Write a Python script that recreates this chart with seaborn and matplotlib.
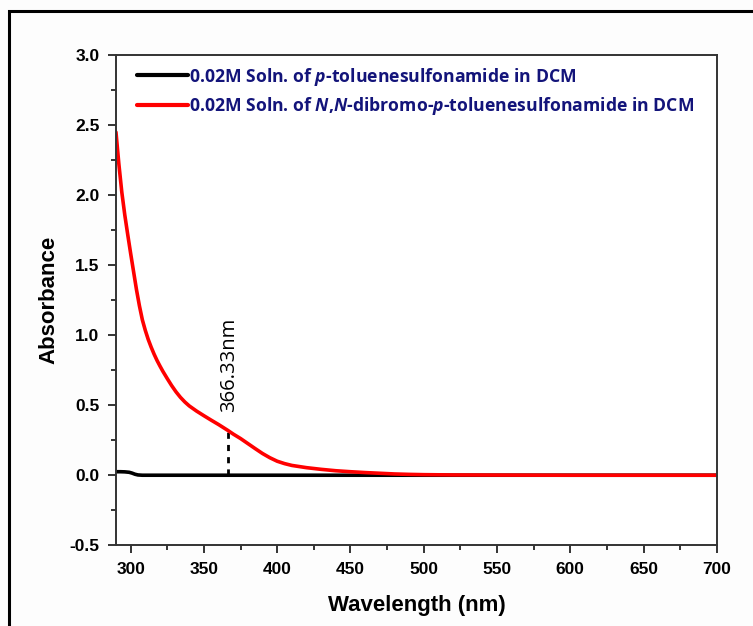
import matplotlib
matplotlib.use("Agg")
import matplotlib.pyplot as plt
from matplotlib.ticker import MultipleLocator, FormatStrFormatter
from matplotlib.patches import Rectangle
import pandas as pd
import seaborn as sns

# UV-Vis spectra (wavelength in nm, absorbance)
wl_dibromo = [290, 292, 294, 296, 298, 300, 302, 304, 306, 308, 310, 312, 314,
              316, 318, 320, 322, 325, 328, 331, 334, 337, 340, 345, 350, 355,
              360, 366.33, 370, 375, 380, 385, 390, 395, 400, 405, 410, 420,
              430, 440, 450, 460, 470, 480, 490, 500, 520, 550, 600, 650, 700]
abs_dibromo = [2.45, 2.22, 2.02, 1.86, 1.72, 1.585, 1.455, 1.325, 1.21, 1.11,
               1.035, 0.97, 0.915, 0.865, 0.82, 0.78, 0.742, 0.69, 0.64, 0.595,
               0.556, 0.523, 0.495, 0.458, 0.425, 0.393, 0.362, 0.32, 0.294,
               0.262, 0.226, 0.19, 0.155, 0.125, 0.10, 0.083, 0.07, 0.054,
               0.042, 0.032, 0.025, 0.019, 0.014, 0.009, 0.006, 0.004, 0.002,
               0.001, 0.0, 0.0, 0.0]

wl_parent = [290, 293, 296, 299, 301, 303, 305, 308, 350, 400, 450, 500, 550,
             600, 650, 700]
abs_parent = [0.025, 0.025, 0.024, 0.021, 0.015, 0.007, 0.002, 0.0, 0.0, 0.0,
              0.0, 0.0, 0.0, 0.0, 0.0, 0.0]

label_parent = "0.02M Soln. of $\\boldsymbol{p}$-toluenesulfonamide in DCM"
label_dibromo = ("0.02M Soln. of $\\boldsymbol{N}$,$\\boldsymbol{N}$-dibromo-"
                 "$\\boldsymbol{p}$-toluenesulfonamide in DCM")

peak_wl = 366.33
peak_abs = 0.32

df = pd.concat([
    pd.DataFrame({"Wavelength": wl_parent, "Absorbance": abs_parent,
                  "Sample": label_parent}),
    pd.DataFrame({"Wavelength": wl_dibromo, "Absorbance": abs_dibromo,
                  "Sample": label_dibromo}),
], ignore_index=True)

sns.set_style("ticks")
plt.rcParams["font.family"] = ["Liberation Sans", "DejaVu Sans"]
plt.rcParams["mathtext.fontset"] = "custom"
plt.rcParams["mathtext.bfit"] = "Open Sans:bold:italic"
plt.rcParams["mathtext.it"] = "Open Sans:bold:italic"
plt.rcParams["text.color"] = "black"
plt.rcParams["axes.labelcolor"] = "black"

fig = plt.figure(figsize=(7.53, 6.26), dpi=100)
fig.patch.set_facecolor("#fdfdfd")
ax = fig.add_axes([0.154, 0.129, 0.798, 0.783])
ax.set_facecolor("white")

sns.lineplot(data=df, x="Wavelength", y="Absorbance", hue="Sample",
             palette={label_parent: "black", label_dibromo: "#ff0000"},
             linewidth=2.6, ax=ax, sort=False, estimator=None)

# marker line at the shoulder of the N,N-dibromo spectrum
ax.plot([peak_wl, peak_wl], [0, peak_abs], color="black", lw=2,
        ls=(0, (2.2, 2.2)), zorder=1)
ax.text(peak_wl + 1, peak_abs + 0.13, f"{peak_wl:.2f}nm", rotation=90,
        ha="center", va="bottom", fontsize=14.5, family="Open Sans",
        color="black")

ax.set_xlim(290, 700)
ax.set_ylim(-0.5, 3.0)
ax.xaxis.set_major_locator(MultipleLocator(50))
ax.xaxis.set_minor_locator(MultipleLocator(25))
ax.yaxis.set_major_locator(MultipleLocator(0.5))
ax.yaxis.set_minor_locator(MultipleLocator(0.25))
ax.yaxis.set_major_formatter(FormatStrFormatter("%.1f"))
ax.tick_params(which="major", direction="out", length=6, width=1.4,
               color="#333333", labelsize=12.5, labelcolor="black", pad=6)
ax.tick_params(which="minor", direction="out", length=3.5, width=1.4,
               color="#333333")
ax.tick_params(top=False, right=False, which="both")
for lbl in ax.get_xticklabels() + ax.get_yticklabels():
    lbl.set_fontweight("bold")
for sp in ax.spines.values():
    sp.set_linewidth(1.4)
    sp.set_color("#333333")

ax.set_xlabel("Wavelength (nm)", fontsize=16, fontweight="bold", labelpad=13)
ax.set_ylabel("Absorbance", fontsize=16, fontweight="bold", labelpad=7)

leg = ax.legend(loc="upper left", bbox_to_anchor=(0.018, 1.0), frameon=False,
                handlelength=2.85, handletextpad=0.1, labelspacing=0.4,
                prop={"family": "Open Sans", "weight": "bold", "size": 12.7},
                borderaxespad=0.2)
for t in leg.get_texts():
    t.set_color("#13147a")
for h in leg.get_lines():
    h.set_linewidth(3)

# outer frame around the figure
fig.patches.append(Rectangle((8.5 / 753, -0.1), 1.2, 1.1 - 11 / 626,
                             transform=fig.transFigure, fill=False,
                             edgecolor="black", linewidth=2.2))

fig.savefig("out.png", dpi=100, facecolor=fig.get_facecolor())
